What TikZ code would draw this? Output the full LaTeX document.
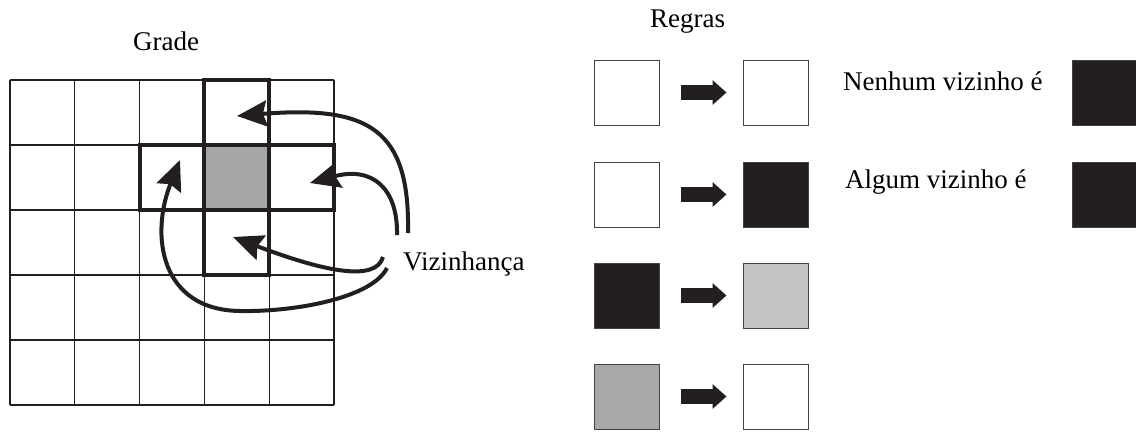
\documentclass[tikz,border=0pt]{standalone}
\usepackage{fontspec}
\setmainfont{Liberation Serif}
\usetikzlibrary{arrows.meta}
\definecolor{ink}{RGB}{35,31,32}
\definecolor{cellgray}{RGB}{166,166,166}
\definecolor{palegray}{RGB}{195,195,195}
\definecolor{midgray}{RGB}{168,168,168}
\begin{document}
\begin{tikzpicture}[x=1pt,y=-1pt,
  txt/.style={inner sep=0pt, anchor=base west, font=\fontsize{27}{32}\selectfont},
  gridline/.style={draw=ink, line width=1.1pt},
  crosscell/.style={draw=ink, line width=4pt, minimum width=64.8pt, minimum height=65pt, inner sep=0pt},
  rulebox/.style={draw=ink!85, line width=1pt, minimum size=65pt, inner sep=0pt},
  nbrarrow/.style={draw=ink, line width=4pt, -{Stealth[length=30pt,width=26pt,inset=4pt]}},
  blockarrow/.style={draw=ink, line width=15pt, shorten <=21pt, shorten >=16pt, -{Triangle[length=14pt,width=24pt]}}
]
\useasboundingbox (0,0) rectangle (1136,432);

% grid
\foreach \i in {0,...,5} \draw[gridline] ({10+64.8*\i},80) -- ({10+64.8*\i},405);
\foreach \j in {0,...,5} \draw[gridline] (10,{80+65*\j}) -- (334,{80+65*\j});

% neighbourhood cells
\node[crosscell] (N) at (236.8,112.5) {};
\node[crosscell] (S) at (236.8,242.5) {};
\node[crosscell] (W) at (172,177.5) {};
\node[crosscell] (E) at (301.6,177.5) {};
\node[crosscell, fill=cellgray] (C) at (236.8,177.5) {};

% labels
\node[txt] (grade) at (133,50) {Grade};
\node[txt] (viz) at (403,270) {Vizinhança};
\node[txt] (regras) at (650,27) {Regras};
\node[txt] (nenhum) at (843,90) {Nenhum vizinho é};
\node[txt] (algum) at (845,188) {Algum vizinho é};

% arrow end points
\coordinate (a1s) at (408,233);
\coordinate (a1e) at (237,116);
\coordinate (a2s) at (397,235);
\coordinate (a2e) at (310,183);
\coordinate (a3s) at (383,257);
\coordinate (a3e) at (233,237);
\coordinate (a4s) at (387,268);
\coordinate (a4m) at (240,311);
\coordinate (a4e) at (180,160);

\draw[nbrarrow] (a1s) .. controls (410,130) and (370,105) .. (a1e);
\draw[nbrarrow] (a2s) .. controls (398,188) and (372,166) .. (a2e);
\draw[nbrarrow] (a3s) .. controls (376,282) and (325,272) .. (a3e);
\draw[nbrarrow] (a4s) .. controls (372,298) and (295,312) .. (a4m)
                       .. controls (160,310) and (150,235) .. (a4e);

% rules
\node[rulebox] (L1) at (626.5,92.5) {};
\node[rulebox] (R1) at (775.5,92.5) {};
\node[rulebox] (L2) at (626.5,194.5) {};
\node[rulebox, fill=ink] (R2) at (775.5,194.5) {};
\node[rulebox, fill=ink] (L3) at (626.5,295.5) {};
\node[rulebox, fill=palegray] (R3) at (775.5,295.5) {};
\node[rulebox, fill=midgray] (L4) at (626.5,396.5) {};
\node[rulebox] (R4) at (775.5,396.5) {};

\draw[blockarrow] (L1) -- (R1);
\draw[blockarrow] (L2) -- (R2);
\draw[blockarrow] (L3) -- (R3);
\draw[blockarrow] (L4) -- (R4);

\node[rulebox, fill=ink] (K1) at (1104.5,93) {};
\node[rulebox, fill=ink] (K2) at (1104.5,194.5) {};
\end{tikzpicture}
\end{document}
